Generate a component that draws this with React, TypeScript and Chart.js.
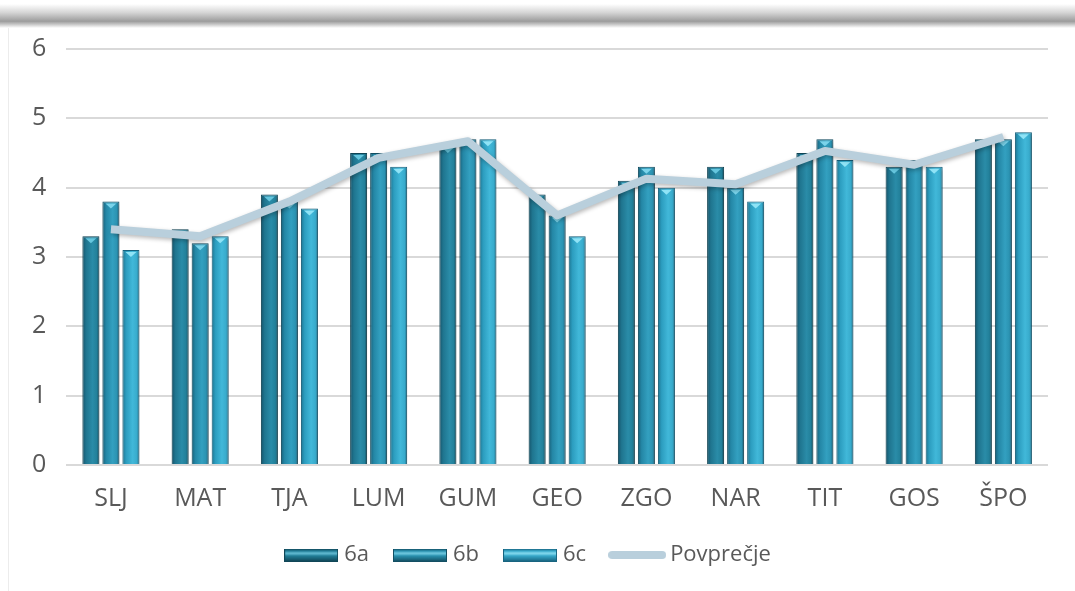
import React, { useEffect, useRef } from "react";
import { Chart, registerables } from "chart.js";

Chart.register(...registerables);

const categories = ["SLJ", "MAT", "TJA", "LUM", "GUM", "GEO", "ZGO", "NAR", "TIT", "GOS", "ŠPO"];
const series6a = [3.3, 3.4, 3.9, 4.5, 4.6, 3.9, 4.1, 4.3, 4.5, 4.3, 4.7];
const series6b = [3.8, 3.2, 3.8, 4.5, 4.7, 3.6, 4.3, 4.0, 4.7, 4.4, 4.7];
const series6c = [3.1, 3.3, 3.7, 4.3, 4.7, 3.3, 4.0, 3.8, 4.4, 4.3, 4.8];
const average = [3.4, 3.3, 3.8, 4.43, 4.67, 3.6, 4.13, 4.05, 4.53, 4.33, 4.73];
const seriesNames = ["6a", "6b", "6c", "Povprečje"];
const yMin = 0;
const yMax = 6;
const yStep = 1;

const palettes = [
  { stops: ["#15536a", "#1f758f", "#2a8ca8", "#22809a", "#114a5c"], tri: "#66c6de", legend: "#22809a", light: "#6cc3da", edge: "#104657" },
  { stops: ["#186079", "#2487a6", "#33a0c0", "#2b93b2", "#165670"], tri: "#7ad3ea", legend: "#2a93b2", light: "#7ad0e6", edge: "#134f63" },
  { stops: ["#1d7591", "#2c9dbf", "#41b8d9", "#38abcc", "#1b6c86"], tri: "#8fe3f6", legend: "#38abcc", light: "#8fe0f3", edge: "#186480" },
];
const lineColor = "#b9cfdc";
const textColor = "#595959";
const FONT = "'Open Sans', sans-serif";

function makeLegendBox(i: number): HTMLCanvasElement {
  const c = document.createElement("canvas");
  c.width = 54;
  c.height = 13;
  const ctx = c.getContext("2d")!;
  const p = palettes[i];
  const g = ctx.createLinearGradient(0, 0, 0, 13);
  g.addColorStop(0, p.edge);
  g.addColorStop(0.2, p.legend);
  g.addColorStop(0.38, p.light);
  g.addColorStop(0.55, p.legend);
  g.addColorStop(1, p.edge);
  ctx.fillStyle = g;
  ctx.fillRect(0, 0, 54, 13);
  ctx.strokeStyle = p.edge;
  ctx.lineWidth = 1;
  ctx.strokeRect(0.5, 0.5, 53, 12);
  return c;
}

function makeLegendLine(): HTMLCanvasElement {
  const c = document.createElement("canvas");
  c.width = 58;
  c.height = 10;
  const ctx = c.getContext("2d")!;
  ctx.strokeStyle = lineColor;
  ctx.lineWidth = 8;
  ctx.lineCap = "round";
  ctx.beginPath();
  ctx.moveTo(4, 5);
  ctx.lineTo(54, 5);
  ctx.stroke();
  return c;
}

const barStyler = {
  id: "barStyler",
  beforeDatasetsDraw(chart: any) {
    const ctx = chart.ctx;
    chart.data.datasets.forEach((ds: any, i: number) => {
      if (ds.type === "line") return;
      const pal = palettes[i];
      const meta = chart.getDatasetMeta(i);
      meta.data.forEach((el: any) => {
        const { x, width } = el.getProps(["x", "width"], true);
        const g = ctx.createLinearGradient(x - width / 2, 0, x + width / 2, 0);
        g.addColorStop(0, pal.stops[0]);
        g.addColorStop(0.22, pal.stops[1]);
        g.addColorStop(0.6, pal.stops[2]);
        g.addColorStop(0.85, pal.stops[3]);
        g.addColorStop(1, pal.stops[4]);
        try {
          el.options.backgroundColor = g;
        } catch (e) {
          /* ignore */
        }
      });
    });
  },
  beforeDatasetDraw(chart: any) {
    const ctx = chart.ctx;
    ctx.save();
    ctx.shadowColor = "rgba(0,0,0,0.28)";
    ctx.shadowBlur = 4;
    ctx.shadowOffsetX = 1;
    ctx.shadowOffsetY = 2;
  },
  afterDatasetDraw(chart: any, args: any) {
    const ctx = chart.ctx;
    ctx.restore();
    const ds = chart.data.datasets[args.index];
    if (ds.type === "line") return;
    const pal = palettes[args.index];
    const meta = args.meta;
    ctx.save();
    meta.data.forEach((el: any) => {
      const { x, y, width } = el.getProps(["x", "y", "width"], true);
      const hw = width * 0.32;
      ctx.beginPath();
      ctx.moveTo(x - hw, y + 2);
      ctx.lineTo(x + hw, y + 2);
      ctx.lineTo(x, y + 7);
      ctx.closePath();
      ctx.fillStyle = pal.tri;
      ctx.fill();
    });
    ctx.restore();
  },
};

export default function App() {
  const canvasRef = useRef<HTMLCanvasElement | null>(null);

  useEffect(() => {
    const canvas = canvasRef.current;
    if (!canvas) return;
    const legendImages = [makeLegendBox(0), makeLegendBox(1), makeLegendBox(2), makeLegendLine()];
    const barSets = [series6a, series6b, series6c].map((data, i) => ({
      type: "bar" as const,
      label: seriesNames[i],
      data,
      backgroundColor: () => palettes[i].legend,
      borderColor: palettes[i].edge,
      borderWidth: 1,
      categoryPercentage: 0.673,
      barPercentage: 0.85,
      order: 1,
    }));
    const chart = new Chart(canvas, {
      type: "bar",
      data: {
        labels: categories,
        datasets: [
          ...barSets,
          {
            type: "line" as const,
            label: seriesNames[3],
            data: average,
            borderColor: lineColor,
            backgroundColor: lineColor,
            borderWidth: 8,
            borderCapStyle: "butt",
            borderJoinStyle: "round",
            pointRadius: 0,
            pointHoverRadius: 0,
            tension: 0,
            order: 0,
          } as any,
        ],
      },
      options: {
        animation: false,
        responsive: false,
        maintainAspectRatio: false,
        layout: { padding: { left: 12, right: 27, top: 49, bottom: 15 } },
        plugins: {
          tooltip: { enabled: false },
          legend: {
            position: "bottom",
            labels: {
              usePointStyle: true,
              pointStyleWidth: 44,
              boxHeight: 12,
              padding: 29,
              color: textColor,
              font: { family: FONT, size: 22 },
              generateLabels: () =>
                seriesNames.map((name, i) => ({
                  text: name,
                  fillStyle: i < 3 ? palettes[i].legend : lineColor,
                  strokeStyle: i < 3 ? palettes[i].edge : lineColor,
                  lineWidth: 0,
                  pointStyle: legendImages[i],
                  datasetIndex: i,
                  hidden: false,
                  fontColor: textColor,
                })) as any,
            },
          },
        },
        scales: {
          x: {
            grid: { display: false, drawTicks: false },
            border: { display: false },
            ticks: { color: textColor, font: { family: FONT, size: 25 }, padding: 19 },
            afterFit: (scale: any) => {
              scale.height = scale.height - 18;
            },
          },
          y: {
            min: yMin,
            max: yMax,
            grid: { color: "#d9d9d9", lineWidth: 2, drawTicks: false },
            border: { display: false },
            ticks: {
              stepSize: yStep,
              color: textColor,
              font: { family: FONT, size: 25 },
              padding: 20,
            },
          },
        },
      },
      plugins: [barStyler],
    });
    return () => chart.destroy();
  }, []);

  return (
    <div
      style={{
        position: "fixed",
        left: 0,
        top: 0,
        width: 1075,
        height: 591,
        background: "#ffffff",
        overflow: "hidden",
      }}
    >
      <div
        style={{
          position: "absolute",
          left: 0,
          top: 4,
          width: 1075,
          height: 24,
          background:
            "linear-gradient(to bottom, rgba(255,255,255,0) 0%, #d6d6d6 35%, #9c9c9c 72%, #c8c8c8 85%, #ffffff 100%)",
        }}
      />
      <div
        style={{
          position: "absolute",
          left: 8,
          top: 28,
          width: 1,
          height: 563,
          background: "#ececec",
        }}
      />
      <canvas
        ref={canvasRef}
        width={1075}
        height={591}
        style={{ position: "absolute", left: 0, top: 0, width: 1075, height: 591 }}
      />
    </div>
  );
}
